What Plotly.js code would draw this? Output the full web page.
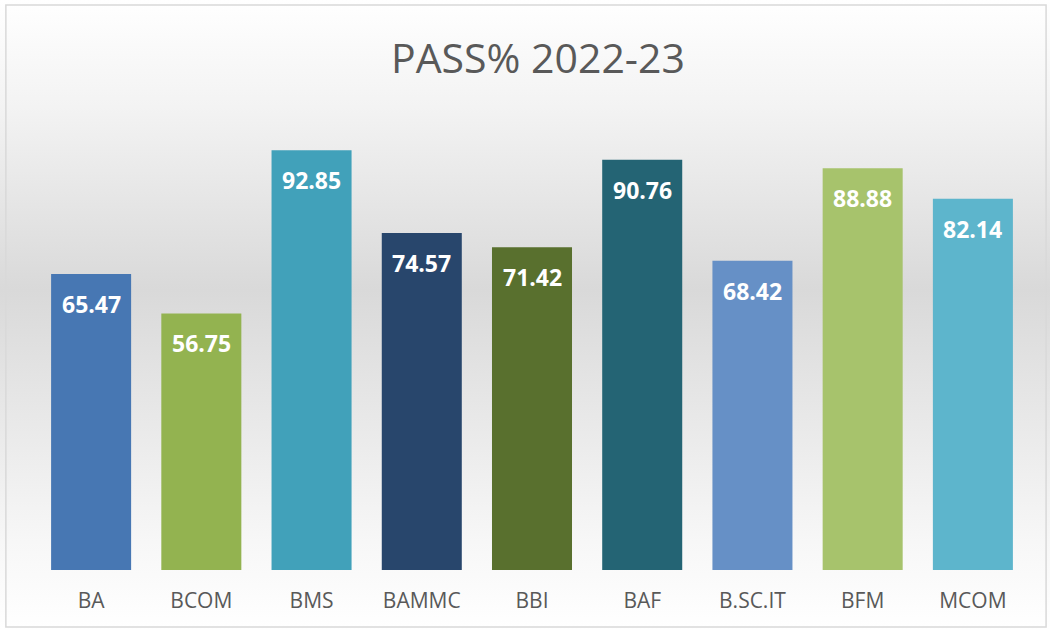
<!DOCTYPE html>
<html>
<head>
<meta charset="utf-8">
<script src="https://cdn.plot.ly/plotly-3.0.1.min.js"></script>
<style>html,body{margin:0;padding:0;background:#fff;}#chart{width:1050px;height:630px;}</style>
</head>
<body>
<div id="chart"></div>
<script>
// ---- data ----
const categories = ["BA", "BCOM", "BMS", "BAMMC", "BBI", "BAF", "B.SC.IT", "BFM", "MCOM"];
const passPercent = [65.47, 56.75, 92.85, 74.57, 71.42, 90.76, 68.42, 88.88, 82.14];
const barColors = ["#4777B3", "#93B350", "#41A1BA", "#28466C", "#59702E", "#246474", "#6690C6", "#A7C36C", "#5DB5CC"];
const chartTitle = "PASS% 2022-23";

// background gradient (styling only)
const bgSvg = '<svg xmlns="http://www.w3.org/2000/svg" width="100" height="630" preserveAspectRatio="none">' +
  '<defs><linearGradient id="g" x1="0" y1="0" x2="0" y2="1">' +
  '<stop offset="0" stop-color="#ffffff"/>' +
  '<stop offset="0.17" stop-color="#f3f3f3"/>' +
  '<stop offset="0.46" stop-color="#d9d9d9"/>' +
  '<stop offset="0.86" stop-color="#f7f7f7"/>' +
  '<stop offset="1" stop-color="#ffffff"/>' +
  '</linearGradient></defs><rect width="100" height="630" fill="url(#g)"/></svg>';
const bgUri = "data:image/svg+xml;base64," + btoa(bgSvg);

const trace = {
  type: "bar",
  x: categories,
  y: passPercent,
  marker: { color: barColors, line: { width: 0 } },
  hoverinfo: "x+y"
};

const annotations = categories.map((c, i) => ({
  x: c, y: passPercent[i], xref: "x", yref: "y",
  text: "<b>" + passPercent[i].toFixed(2) + "</b>",
  showarrow: false, yanchor: "top", yshift: -12,
  font: { family: "Open Sans, sans-serif", size: 23, color: "#ffffff" }
}));

const layout = {
  width: 1050, height: 630,
  margin: { l: 36, r: 22, t: 118, b: 60 },
  paper_bgcolor: "#ffffff",
  plot_bgcolor: "rgba(0,0,0,0)",
  title: {
    text: chartTitle,
    x: 0.506, xref: "paper", xanchor: "center",
    y: 0.907, yref: "container", yanchor: "middle",
    font: { family: "Open Sans, sans-serif", size: 41, color: "#595959" }
  },
  bargap: 0.274,
  xaxis: {
    showgrid: false, zeroline: false, showline: false, ticks: "",
    tickfont: { family: "Open Sans, sans-serif", size: 21, color: "#595959" },
    ticklabelstandoff: 16, fixedrange: true
  },
  yaxis: {
    range: [0, 100], showgrid: false, zeroline: false, showline: false,
    showticklabels: false, ticks: "", fixedrange: true
  },
  showlegend: false,
  annotations: annotations,
  images: [{
    source: bgUri, xref: "paper", yref: "paper",
    x: -36/988, y: 1 + 118/452, sizex: 1050/988, sizey: 630/452,
    xanchor: "left", yanchor: "top", sizing: "stretch", layer: "below"
  }],
  shapes: [{
    type: "rect", xref: "paper", yref: "paper",
    x0: -30/988, x1: 1 + 18/988, y0: -57/452, y1: 1 + 113/452,
    line: { color: "#d9d9d9", width: 1.5 }, fillcolor: "rgba(0,0,0,0)", layer: "above"
  }]
};

Plotly.newPlot("chart", [trace], layout, { displayModeBar: false, staticPlot: true });
</script>
</body>
</html>
